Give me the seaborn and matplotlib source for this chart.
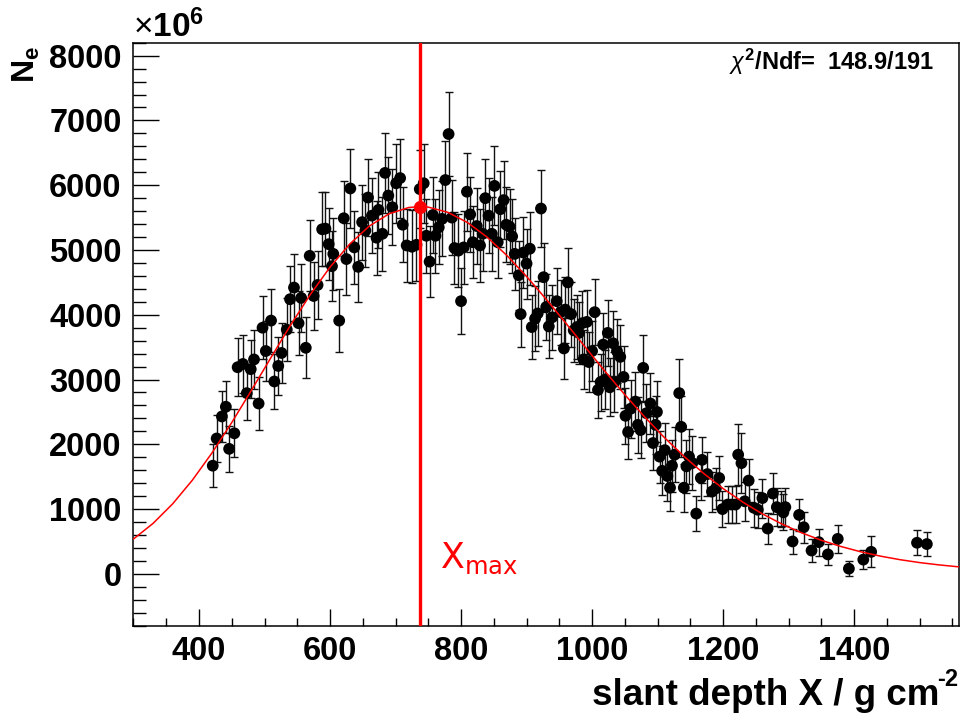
import matplotlib
matplotlib.use("Agg")
import matplotlib.pyplot as plt
import seaborn as sns
import pandas as pd
from matplotlib.ticker import MultipleLocator

# ---- data (N_e in units of 1e6) ----
depth = [421, 427, 435, 441, 446, 454, 459, 467, 473, 479,
         484, 491, 497, 502, 510, 515, 521, 526, 534, 539,
         545, 552, 556, 563, 569, 575, 581, 588, 593, 598,
         603, 605, 614, 621, 625, 631, 637, 643, 649, 654,
         658, 664, 671, 674, 680, 684, 689, 695, 701, 707,
         711, 717, 725, 732, 737, 743, 747, 752, 757, 761,
         766, 771, 776, 781, 786, 790, 796, 800, 804, 809,
         814, 818, 824, 829, 833, 837, 842, 847, 851, 856,
         860, 865, 869, 874, 878, 882, 888, 891, 895, 900,
         905, 908, 913, 917, 922, 926, 930, 934, 939, 946,
         952, 957, 959, 963, 968, 972, 977, 980, 985, 987,
         992, 995, 1000, 1004, 1009, 1013, 1017, 1020, 1024, 1027,
         1032, 1034, 1038, 1043, 1048, 1051, 1055, 1059, 1066, 1070,
         1074, 1078, 1083, 1089, 1093, 1097, 1099, 1103, 1107, 1111,
         1115, 1119, 1122, 1126, 1133, 1136, 1140, 1144, 1148, 1153,
         1159, 1166, 1168, 1176, 1183, 1189, 1194, 1199, 1207, 1213,
         1219, 1223, 1228, 1233, 1239, 1247, 1253, 1260, 1268, 1276,
         1282, 1288, 1292, 1295, 1306, 1316, 1323, 1335, 1346, 1360,
         1375, 1392, 1414, 1426, 1496, 1511]
ne = [1670, 2090, 2430, 2580, 1930, 2170, 3190, 3240, 2790, 3160,
      3310, 2630, 3800, 3440, 3910, 2970, 3210, 3410, 3770, 4240,
      4420, 3870, 4260, 3490, 4910, 4290, 4460, 5320, 5330, 5090,
      4750, 4940, 3910, 5490, 4860, 5950, 5040, 4740, 5430, 5300,
      5810, 5530, 5190, 5620, 5250, 6190, 5840, 5660, 6030, 6110,
      5390, 5070, 5050, 5080, 5940, 6030, 5220, 4820, 5540, 5220,
      5350, 5480, 6080, 6790, 5500, 5030, 4990, 4210, 5040, 5900,
      5550, 5120, 5370, 5070, 5250, 5800, 5530, 5250, 5990, 5120,
      5630, 5770, 5390, 5360, 5210, 4940, 4610, 4010, 4960, 4790,
      5020, 3810, 3940, 4020, 5640, 4580, 4120, 3820, 3960, 4210,
      4040, 3480, 4080, 4500, 4010, 3760, 3810, 3720, 3870, 3310,
      3890, 3270, 3440, 4040, 2840, 2960, 3540, 3000, 3720, 2880,
      3560, 2960, 3440, 3350, 3040, 2440, 2190, 2550, 2660, 2300,
      2220, 3180, 2480, 2630, 2020, 2300, 2500, 1810, 1590, 1910,
      1510, 1330, 1670, 1840, 2790, 2270, 1330, 1660, 1810, 1710,
      930, 1480, 1760, 1540, 1270, 1320, 1480, 1000, 1070, 1070,
      1070, 1840, 1710, 1120, 1440, 1020, 990, 1170, 700, 1240,
      1030, 1000, 950, 1030, 500, 910, 720, 360, 490, 300,
      540, 80, 220, 340, 480, 460]
ne_err = [330, 370, 390, 400, 350, 370, 450, 450, 420, 450,
          460, 410, 490, 470, 490, 430, 450, 460, 490, 510,
          520, 490, 520, 470, 550, 520, 530, 570, 570, 560,
          540, 550, 490, 580, 550, 610, 560, 540, 580, 570,
          600, 580, 570, 590, 570, 620, 600, 590, 610, 610,
          580, 560, 560, 560, 600, 610, 570, 550, 580, 570,
          570, 580, 610, 650, 580, 560, 560, 510, 560, 600,
          580, 560, 580, 560, 570, 600, 580, 570, 610, 560,
          590, 600, 580, 580, 570, 550, 530, 500, 550, 540,
          560, 490, 500, 500, 600, 530, 510, 490, 500, 510,
          500, 470, 510, 530, 500, 490, 490, 480, 490, 460,
          490, 460, 470, 510, 430, 440, 490, 450, 510, 450,
          500, 460, 500, 490, 480, 430, 410, 450, 460, 430,
          430, 510, 450, 470, 420, 450, 470, 400, 380, 420,
          380, 360, 400, 420, 520, 470, 370, 410, 420, 420,
          270, 340, 360, 340, 310, 320, 340, 280, 290, 290,
          290, 470, 460, 300, 330, 290, 280, 300, 240, 310,
          290, 280, 280, 290, 190, 250, 240, 180, 210, 160,
          220, 120, 150, 240, 190, 190]

# fitted profile
fit_depth = [300, 330, 360, 390, 420, 450, 480, 510, 540, 570,
             600, 630, 660, 690, 720, 737, 750, 780, 810, 840,
             870, 900, 930, 960, 990, 1020, 1050, 1080, 1110, 1140,
             1170, 1200, 1230, 1260, 1290, 1320, 1350, 1380, 1410, 1440,
             1470, 1500, 1530, 1560]
fit_ne = [538, 780, 1083, 1448, 1869, 2336, 2833, 3342, 3843, 4313,
          4735, 5091, 5369, 5558, 5656, 5670, 5662, 5581, 5423, 5197,
          4915, 4591, 4239, 3870, 3495, 3124, 2766, 2426, 2108, 1817,
          1553, 1317, 1108, 926, 768, 633, 518, 422, 341, 274,
          219, 174, 138, 108]

xmax_depth = 737
xmax_ne = 5670
xmax_depth_err = 8
chi2_label = "148.9/191"

# ---- style ----
sns.set_theme(style="white", rc={"text.color": "black", "xtick.color": "black",
                                 "ytick.color": "black", "axes.labelcolor": "black",
                                 "axes.edgecolor": "black"})
plt.rcParams['font.family'] = ['Liberation Sans', 'DejaVu Sans']
plt.rcParams['mathtext.fontset'] = 'custom'
plt.rcParams['mathtext.rm'] = 'Liberation Sans'
plt.rcParams['mathtext.bf'] = 'Liberation Sans:bold'
plt.rcParams['mathtext.it'] = 'Liberation Sans:italic'

fig = plt.figure(figsize=(9.63, 7.24), dpi=100)
ax = fig.add_axes([0.1386, 0.1358, 0.8572, 0.8052])

df = pd.DataFrame({"depth": depth, "ne": ne, "err": ne_err})
fit_df = pd.DataFrame({"depth": fit_depth, "ne": fit_ne})

ax.errorbar(df["depth"], df["ne"], yerr=df["err"], fmt="none",
            ecolor="#111111", elinewidth=1.0, capsize=2.6, capthick=1.0, zorder=2)
sns.scatterplot(data=df, x="depth", y="ne", ax=ax, color="black", s=72,
                edgecolor="none", linewidth=0, zorder=3, legend=False)
sns.lineplot(data=fit_df, x="depth", y="ne", ax=ax, color="red",
             linewidth=1.1, zorder=4, legend=False)

ax.axvline(xmax_depth, color="red", lw=2.4, zorder=5)
ax.errorbar([xmax_depth], [xmax_ne], xerr=[xmax_depth_err], fmt="o",
            color="red", ms=8.5, elinewidth=3, capsize=0, zorder=6)

ax.text(xmax_depth + 31, 90, r"$\mathregular{X_{max}}$", color="red",
        fontsize=25, family="DejaVu Sans", ha="left", va="baseline", zorder=7)

ax.set_xlim(300, 1560)
ax.set_ylim(-800, 8200)
ax.set_xlabel("")
ax.set_ylabel("")

ax.xaxis.set_major_locator(MultipleLocator(200))
ax.xaxis.set_minor_locator(MultipleLocator(50))
ax.yaxis.set_major_locator(MultipleLocator(1000))
ax.yaxis.set_minor_locator(MultipleLocator(200))

ax.tick_params(axis="both", which="both", direction="in", colors="black",
               bottom=True, left=True, top=False, right=False)
ax.tick_params(axis="x", which="major", length=12, width=1, pad=7.5, labelsize=23.5)
ax.tick_params(axis="x", which="minor", length=6, width=1)
ax.tick_params(axis="y", which="major", length=19, width=1, pad=8.5, labelsize=23.5)
ax.tick_params(axis="y", which="minor", length=9.5, width=1)
for lbl in ax.get_xticklabels() + ax.get_yticklabels():
    lbl.set_fontweight("bold")
    lbl.set_color("black")

for sp in ax.spines.values():
    sp.set_color("black")
    sp.set_linewidth(1.1)
ax.grid(False)

# texts
ax.text(0.97, 0.954, r"$\chi^{\mathbf{2}}$/Ndf=  " + chi2_label, transform=ax.transAxes,
        ha="right", va="baseline", fontsize=17, fontweight="bold", color="black")
fig.text(133 / 963, 1 - 37 / 724, r"$\times\mathbf{10^{6}}$", ha="left", va="baseline",
         fontsize=24, color="black")
fig.text(939 / 963, 1 - 705 / 724, "slant depth X / g cm",
         ha="right", va="baseline", fontsize=26.5, fontweight="bold", color="black")
fig.text(937 / 963, 1 - 686 / 724, "-2",
         ha="left", va="baseline", fontsize=17, fontweight="bold", color="black")
fig.text(11 / 963, 1 - 46 / 724, r"$\mathbf{N_{e}}$", rotation=90,
         ha="left", va="top", fontsize=23, color="black")

fig.savefig("out.png", dpi=100)
